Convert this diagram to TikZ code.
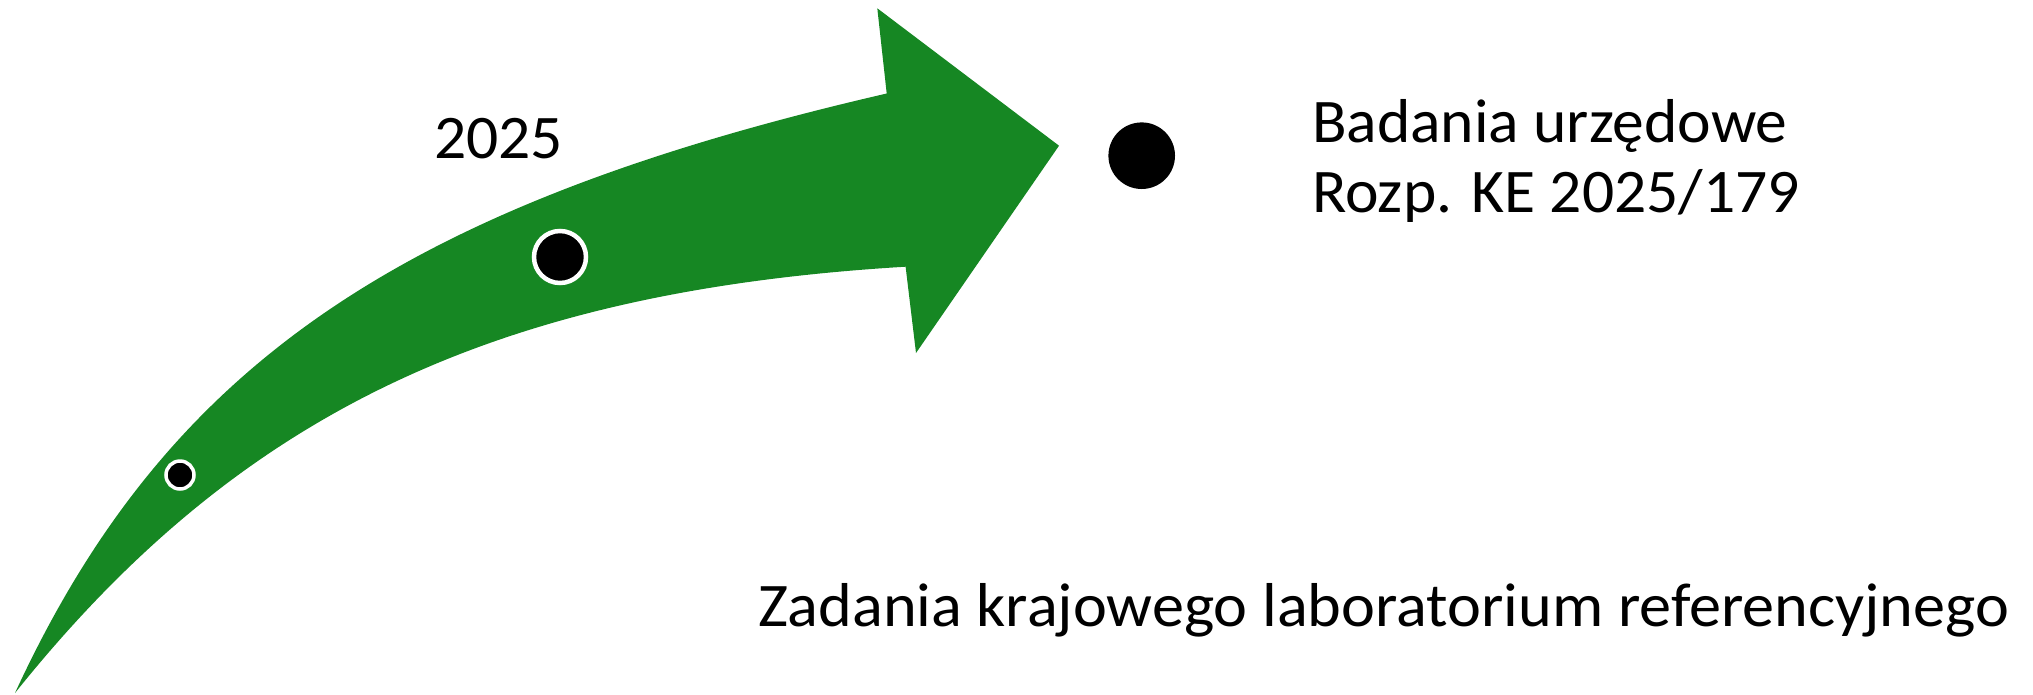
\documentclass[tikz,border=0pt]{standalone}
\usepackage{fontspec}
\setmainfont{Carlito}[FakeStretch=1.025]
\newfontfamily\widefont{Carlito}[FakeStretch=1.036]
\definecolor{arrowgreen}{RGB}{22,135,35}
\tikzset{
  lbl/.style={anchor=base west, inner sep=0pt, outer sep=0pt, font=\fontsize{62}{70}\selectfont},
  ringdot/.style={circle, fill=black, draw=white, inner sep=0pt}
}
\begin{document}
\begin{tikzpicture}[x=1pt,y=-1pt]
\useasboundingbox (0,0) rectangle (2033,694);
% curved arrow
\fill[arrowgreen] (15,693) .. controls (166,366) and (399,206) .. (886.7,93.5)
  -- (877.3,8.3) -- (1059,145.7) -- (916,353) -- (905.6,266.7)
  .. controls (494,291.4) and (238.5,413.7) .. (15,693) -- cycle;
% dots on the arrow
\node[ringdot, minimum size=28pt, line width=3.5pt] (d1) at (180,475) {};
\node[ringdot, minimum size=52pt, line width=4.5pt] (d2) at (560,257) {};
% dot at the tip
\node[circle, fill=black, inner sep=0pt, minimum size=66.6pt] (d3) at (1141.7,155.7) {};
% labels
\node[lbl] (year) at (434,158.3) {2025};
\node[lbl] (bad1) at (1312,142) {Badania urzędowe};
\node[lbl] (bad2) at (1312,212) {Rozp. KE 2025/179};
\node[lbl, font=\widefont\fontsize{62}{70}\selectfont] (zad) at (758,626.7) {Zadania krajowego laboratorium referencyjnego};
\end{tikzpicture}
\end{document}
